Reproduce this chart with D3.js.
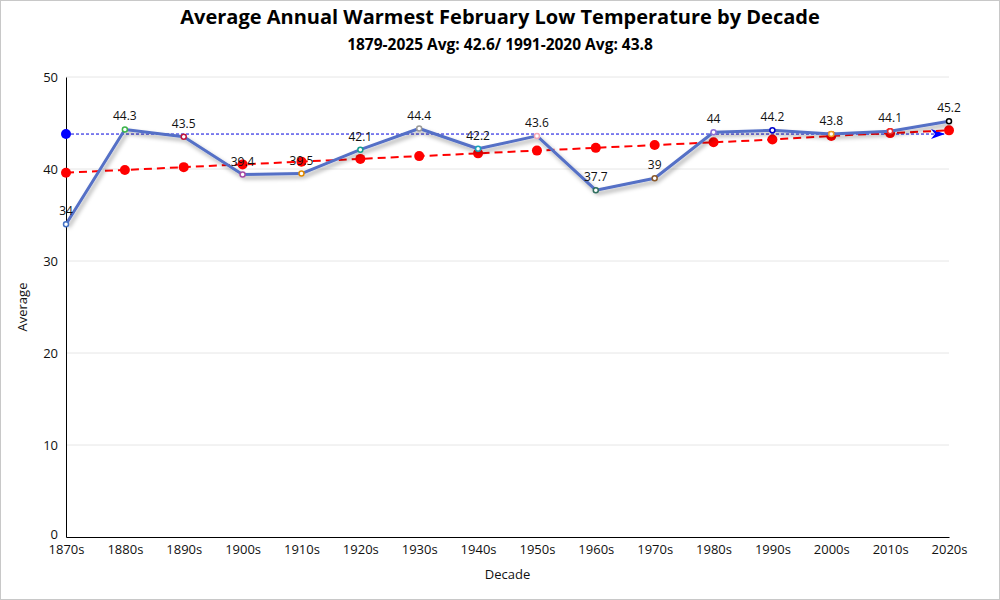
<!DOCTYPE html>
<html><head><meta charset="utf-8">
<script src="https://cdn.jsdelivr.net/npm/d3@7"></script>
<style>body{margin:0;background:#fff}svg{display:block}</style>
</head><body>
<svg id="c" width="1000" height="600"></svg>
<script>
const decades = ["1870s","1880s","1890s","1900s","1910s","1920s","1930s","1940s","1950s","1960s","1970s","1980s","1990s","2000s","2010s","2020s"];
const averages = [34,44.3,43.5,39.4,39.5,42.1,44.4,42.2,43.6,37.7,39,44,44.2,43.8,44.1,45.2];
const trendValues = [39.6,39.9,40.2,40.5,40.8,41.1,41.4,41.7,42.0,42.3,42.6,42.9,43.2,43.6,43.9,44.2];
const normalAvg = 43.8;
const markerColors = ["#4472c4","#3cb44b","#c0143c","#a64ca6","#e08a00","#169e8f","#999999","#17a2b8","#f4a6b8","#2f6f5f","#8b5a2b","#8a6fd6","#0000cc","#f0a020","#e83030","#000000"];
const yTicks = [0,10,20,30,40,50];
const FONT = "'Open Sans', 'Noto Sans', sans-serif";

const svg = d3.select("#c");
const W = 1000, H = 600;
const m = {left:66, right:51, top:77, bottom:63};
const x = d3.scalePoint().domain(decades).range([m.left, W - m.right]);
const y = d3.scaleLinear().domain([0,50]).range([H - m.bottom, m.top]);

svg.append("rect").attr("x",0.5).attr("y",0.5).attr("width",W-1).attr("height",H-1)
  .attr("fill","#fff").attr("stroke","#c8c8c8");

const defs = svg.append("defs");
const f = defs.append("filter").attr("id","sh").attr("x","-10%").attr("y","-20%").attr("width","120%").attr("height","140%");
f.append("feDropShadow").attr("dx",2).attr("dy",3).attr("stdDeviation",2).attr("flood-color","#000").attr("flood-opacity",0.35);

// grid
svg.append("g").selectAll("line").data(yTicks.filter(d=>d>0)).join("line")
  .attr("x1",m.left).attr("x2",W-m.right).attr("y1",d=>y(d)).attr("y2",d=>y(d))
  .attr("stroke","#e6e6e6").attr("stroke-width",1);

// axes
const ya = svg.append("g").attr("transform",`translate(${m.left},0)`)
  .call(d3.axisLeft(y).tickValues(yTicks).tickSize(0).tickPadding(8));
ya.select(".domain").attr("stroke","#000");
ya.selectAll("text").attr("font-family",FONT).attr("font-size",13).attr("fill","#111")
  .attr("dy",d=>d===0?"0.1em":"0.32em");
const xa = svg.append("g").attr("transform",`translate(0,${H-m.bottom})`)
  .call(d3.axisBottom(x).tickSize(0).tickPadding(8));
xa.select(".domain").attr("stroke","#000");
xa.selectAll("text").attr("font-family",FONT).attr("font-size",13).attr("fill","#111");

// axis titles
svg.append("text").attr("x",(m.left + W - m.right)/2).attr("y",579).attr("text-anchor","middle")
  .attr("font-family",FONT).attr("font-size",13).attr("fill","#111").text("Decade");
svg.append("text").attr("transform",`translate(27,${(m.top + H - m.bottom)/2}) rotate(-90)`).attr("text-anchor","middle")
  .attr("font-family",FONT).attr("font-size",13).attr("fill","#111").text("Average");

// titles
svg.append("text").attr("x",W/2).attr("y",24).attr("text-anchor","middle")
  .attr("font-family",FONT).attr("font-weight","bold").attr("font-size",20).attr("fill","#000")
  .text("Average Annual Warmest February Low Temperature by Decade");
svg.append("text").attr("x",W/2).attr("y",50).attr("text-anchor","middle")
  .attr("font-family",FONT).attr("font-weight","bold").attr("font-size",15.5).attr("fill","#000")
  .text("1879-2025 Avg: 42.6/ 1991-2020 Avg: 43.8");

// normal avg line
const x0 = x(decades[0]), x1 = x(decades[decades.length-1]);
svg.append("line").attr("x1",x0).attr("x2",x1-4).attr("y1",y(normalAvg)).attr("y2",y(normalAvg))
  .attr("stroke","#0000dd").attr("stroke-width",1).attr("stroke-dasharray","3,2");
svg.append("circle").attr("cx",x0).attr("cy",y(normalAvg)).attr("r",5).attr("fill","#0000ff");
const ay = y(normalAvg), ax = x1 - 4;
svg.append("path").attr("d",`M${ax},${ay} L${ax-14},${ay-5} L${ax-10},${ay} L${ax-14},${ay+5} Z`).attr("fill","#0000ff");

// trend line
const trendLine = d3.line().x((d,i)=>x(decades[i])).y(d=>y(d));
svg.append("path").datum(trendValues).attr("d",trendLine).attr("fill","none")
  .attr("stroke","#ff0000").attr("stroke-width",2).attr("stroke-dasharray","8,5");
svg.append("g").selectAll("circle").data(trendValues).join("circle")
  .attr("cx",(d,i)=>x(decades[i])).attr("cy",d=>y(d)).attr("r",5).attr("fill","#ff0000");

// main line
const mainLine = d3.line().x((d,i)=>x(decades[i])).y(d=>y(d));
svg.append("path").datum(averages).attr("d",mainLine).attr("fill","none")
  .attr("stroke","#5470c6").attr("stroke-width",3).attr("stroke-linejoin","round").attr("filter","url(#sh)");
svg.append("g").selectAll("circle").data(averages).join("circle")
  .attr("cx",(d,i)=>x(decades[i])).attr("cy",d=>y(d)).attr("r",2.5).attr("fill","#fff")
  .attr("stroke",(d,i)=>markerColors[i]).attr("stroke-width",1.5);

// labels
svg.append("g").selectAll("text").data(averages).join("text")
  .attr("x",(d,i)=>x(decades[i])).attr("y",d=>y(d)-9).attr("text-anchor","middle")
  .attr("font-family",FONT).attr("font-size",12).attr("fill","#111").text(d=>d);
</script>
</body></html>
